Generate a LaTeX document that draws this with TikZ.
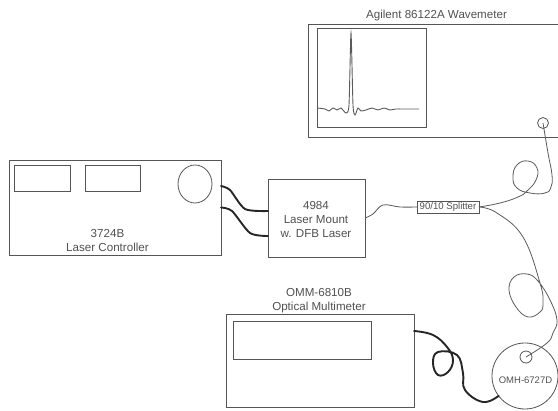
\documentclass[tikz,border=0pt]{standalone}
\usepackage{fontspec}
\setmainfont{Liberation Sans}
\usetikzlibrary{arrows.meta,positioning,calc,shapes.geometric}
\definecolor{caja}{HTML}{555555}
\definecolor{rotulo}{HTML}{505050}
\definecolor{fibra}{HTML}{5A5A5A}
\tikzset{
  caja/.style={draw=caja,line width=0.9pt,rectangle,minimum width=#1,inner sep=0pt,outer sep=0pt},
  rotulo/.style={text=rotulo,font=\fontsize{11.6}{14}\selectfont,align=center,inner sep=0pt},
  puerto/.style={draw=caja,line width=0.8pt,circle,inner sep=0pt,outer sep=0pt},
  fibra/.style={draw=fibra,line width=0.8pt},
  cable/.style={draw=black!85,line width=1.9pt,line cap=round}
}
\begin{document}
\begin{tikzpicture}[x=1pt,y=-1pt]
  \useasboundingbox (0,0) rectangle (558,411);
  % instrumentos
  \node[caja=252pt,minimum height=113pt] (wave) at (434,80.5) {};
  \node[caja=109pt,minimum height=99pt] (screen) at (371.5,77.5) {};
  \node[puerto,minimum size=11pt] (wport) at (543,123) {};
  \node[rotulo] (wavetxt) at (436.5,16) {Agilent 86122A Wavemeter};
  \node[caja=212pt,minimum height=95pt] (ctrl) at (115,207.5) {};
  \node[caja=56pt,minimum height=26pt] (ctrlwinA) at (42,178) {};
  \node[caja=55pt,minimum height=26pt] (ctrlwinB) at (112.5,178) {};
  \node[draw=caja,line width=0.8pt,ellipse,minimum width=34pt,minimum height=38pt,inner sep=0pt] (ctrlknob) at (195,184) {};
  \node[rotulo] (ctrltxt) at (107.5,241) {3724B\\Laser Controller};
  \node[caja=97pt,minimum height=78pt] (mount) at (316.5,218) {};
  \node[rotulo] (mounttxt) at (316,220) {4984\\Laser Mount\\w. DFB Laser};
  \node[caja=62pt,minimum height=12pt,rotulo,font=\fontsize{9.6}{12}\selectfont] (split) at (448,207) {90/10 Splitter};
  \node[caja=188pt,minimum height=93pt] (omm) at (320,360.5) {};
  \node[caja=138pt,minimum height=38pt] (ommwin) at (302,340) {};
  \node[rotulo] (ommtxt) at (319,301) {OMM-6810B\\Optical Multimeter};
  \node[puerto,minimum size=66pt] (det) at (525,376) {};
  \node[puerto,minimum size=12pt] (dport) at (526,357) {};
  \node[rotulo,font=\fontsize{9.5}{12}\selectfont] (dettxt) at (525.5,380) {OMH-6727D};
  % extremos de los cables
  \coordinate (ctrlA) at ([yshift=21.5pt]ctrl.east);
  \coordinate (ctrlB) at (ctrl.east);
  \coordinate (mountA) at ([yshift=7pt]mount.west);
  \coordinate (mountB) at ([yshift=-18pt]mount.west);
  \coordinate (ommout) at ([yshift=29.5pt]omm.east);
  % cables
  \draw[cable] plot[smooth,tension=0.45] coordinates {(ctrlA) (230,190) (245,209) (mountA)};
  \draw[cable] plot[smooth,tension=0.45] coordinates {(ctrlB) (232,211) (250,233) (mountB)};
  \draw[cable] plot[smooth,tension=0.7] coordinates {(ommout) (433,335) (447,347) (453,360) (448,372) (438,375) (433,363) (438,352) (457,355) (463,373) (465,390) (483,402) (det.217)};
  % fibra
  \draw[fibra] plot[smooth,tension=0.6] coordinates {(mount.east) (373,214) (383,205) (400,207) (split.west)};
  \draw[fibra] plot[smooth,tension=0.8] coordinates {(split.east) (500,203) (518,197) (527,191) (536,180) (537,168) (528,161) (517,165) (513,177) (517,188) (530,193) (545,193) (551,187) (552,175) (548,153) (wport.center)};
  \draw[fibra] plot[smooth,tension=0.7] coordinates {(split.east) (497,213) (523,237) (540,283) (543,303) (540,312) (528,317) (516,307) (509,290) (514,277) (527,274) (538,281) (550,300) (557,320) (553,333) (547,343) (dport.center)};
  % traza
  \draw[fibra,line width=0.9pt] plot[smooth,tension=0.4] coordinates {(317,108) (325,109) (329,111) (333,108) (337,110) (341,108) (346,113) (349,105) (351,33) (353,105) (355,115) (358,108) (361,111) (366,110) (372,108) (378,110) (384,108) (390,110) (396,109) (408,109) (419,109)};
\end{tikzpicture}
\end{document}
